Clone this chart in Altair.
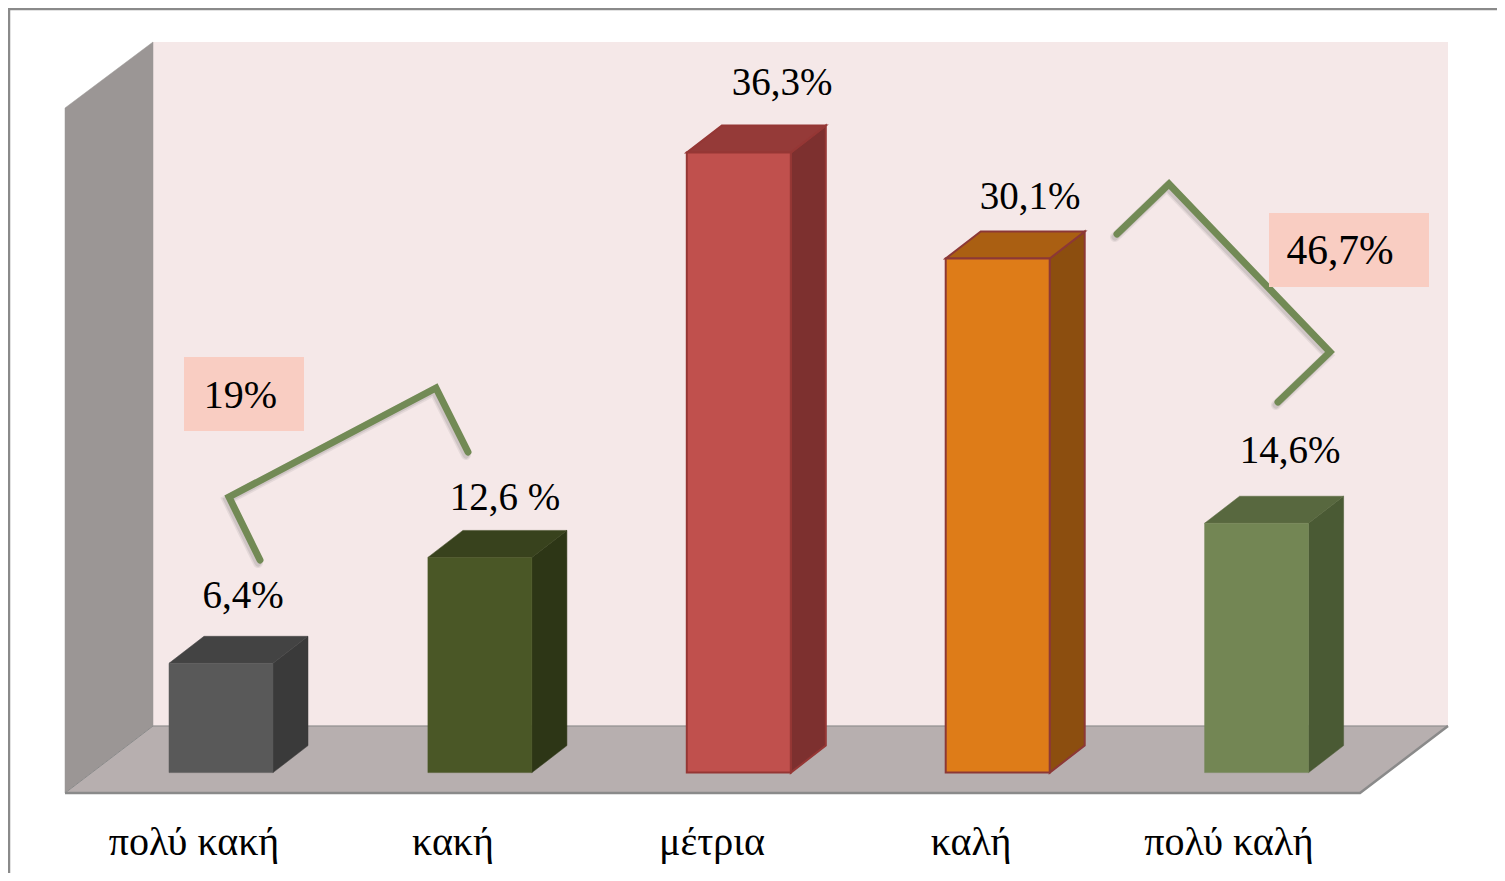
import altair as alt
import pandas as pd

# ---- chart values ----
categories = ["πολύ κακή", "κακή", "μέτρια", "καλή", "πολύ καλή"]
values = [6.4, 12.6, 36.3, 30.1, 14.6]
value_labels = ["6,4%", "12,6 %", "36,3%", "30,1%", "14,6%"]
group_labels = ["19%", "46,7%"]

# ---- styling ----
front = ["#595959", "#4a5726", "#c0504d", "#de7c18", "#738654"]
top = ["#434343", "#38421d", "#953a38", "#aa5f12", "#58683f"]
side = ["#3a3a3a", "#2d3616", "#7d302f", "#8c4e0f", "#4a5a34"]
edge = ["#595959", "#4a5726", "#953735", "#8c3836", "#738654"]
edge_w = [0.5, 0.5, 2, 2, 0.5]
FONT = "Liberation Serif"
W, H = 1489, 865


def X(px):
    return (px - 221) / 258.9


def Y(py):
    return (772.6 - py) / 17.08


half = 52 / 258.9
dx = 35 / 258.9
dy = 27 / 17.08
xs = alt.Scale(domain=[X(8), X(8 + W)], nice=False, zero=False)
ys = alt.Scale(domain=[Y(8 + H), Y(8)], nice=False, zero=False)
ex = alt.X("x:Q", scale=xs, axis=None)
ey = alt.Y("y:Q", scale=ys, axis=None)


def vpoly(rows, color, stroke=None, sw=0):
    d = pd.DataFrame([{"x": X(a), "y": Y(b), "y2": Y(c)} for a, b, c in rows])
    return alt.Chart(d).mark_area(orient="vertical", color=color, stroke=stroke or color, strokeWidth=sw).encode(
        x=ex, y=ey, y2="y2:Q")


def hpoly(rows, color):
    d = pd.DataFrame([{"y": Y(b), "x": X(a), "x2": X(c)} for b, a, c in rows])
    return alt.Chart(d).mark_area(orient="horizontal", color=color, stroke=color, strokeWidth=0.5).encode(
        x=ex, x2="x2:Q", y=ey)


def seg(points, color, width, opacity=1.0, cap="round"):
    d = pd.DataFrame([{"o": i, "x": X(a), "y": Y(b)} for i, (a, b) in enumerate(points)])
    return alt.Chart(d).mark_line(color=color, strokeWidth=width, opacity=opacity, strokeCap=cap,
                                  strokeJoin="miter").encode(x=ex, y=ey, order="o:Q")


def box(x0, x1, y0, y1, color, **kw):
    d = pd.DataFrame([{"x": X(x0), "x2": X(x1), "y": Y(y0), "y2": Y(y1)}])
    return alt.Chart(d).mark_rect(color=color, **kw).encode(x=ex, x2="x2:Q", y=ey, y2="y2:Q")


def txt(rows, size):
    d = pd.DataFrame([{"x": X(a), "y": Y(b), "t": t} for a, b, t in rows])
    return alt.Chart(d).mark_text(font=FONT, fontSize=size, color="#000000", align="center",
                                  baseline="alphabetic").encode(x=ex, y=ey, text="t:N")


layers = []
# walls and floor
layers.append(box(153, 1448, 42, 726, "#f5e8e8"))
layers.append(vpoly([(65, 793, 108), (153, 726, 42)], "#9b9695", sw=0.5))
layers.append(hpoly([(793, 65, 1360), (726, 153, 1448)], "#b7afaf"))
layers.append(seg([(65, 793), (1360, 793), (1448, 726), (153, 726), (65, 793)], "#8a8a8a", 1, cap="butt"))
layers.append(seg([(65, 793), (1360, 793), (1448, 726)], "#8a8a8a", 2.5, cap="butt"))

# slide frame, at the edge of the drawable area
layers.append(seg([(9, 873), (9, 9), (1497, 9)], "#8a8a8a", 2.5, cap="butt"))

# bars
for i, v in enumerate(values):
    sd = pd.DataFrame([
        {"x": i + half, "y": 0, "y2": v},
        {"x": i + half + dx, "y": dy, "y2": v + dy},
    ])
    layers.append(alt.Chart(sd).mark_area(orient="vertical", color=side[i], stroke=edge[i] if edge_w[i] > 1 else side[i],
                                          strokeWidth=edge_w[i]).encode(x=ex, y=ey, y2="y2:Q"))
    td = pd.DataFrame([
        {"y": v, "x": i - half, "x2": i + half},
        {"y": v + dy, "x": i - half + dx, "x2": i + half + dx},
    ])
    layers.append(alt.Chart(td).mark_area(orient="horizontal", color=top[i], stroke=edge[i] if edge_w[i] > 1 else top[i],
                                          strokeWidth=edge_w[i]).encode(x=ex, x2="x2:Q", y=ey))
    fd = pd.DataFrame([{"x": i - half, "x2": i + half, "y": v, "y2": 0}])
    layers.append(alt.Chart(fd).mark_rect(color=front[i], stroke=edge[i], strokeWidth=edge_w[i]).encode(
        x=ex, x2="x2:Q", y=ey, y2="y2:Q"))

# brackets with soft shadow
left = [(260, 560), (229, 497), (436, 388), (468, 452)]
right = [(1117, 234), (1169, 184), (1330, 352), (1278, 402)]
for pts in (left, right):
    shadow = [(a - 2, b + 3) for a, b in pts]
    layers.append(seg(shadow, "#777777", 10, 0.12))
    layers.append(seg(shadow, "#777777", 7, 0.2))
    layers.append(seg(pts, "#728a55", 7))

# highlighted totals
layers.append(box(184, 304, 357, 431, "#f9cdc2"))
layers.append(box(1269, 1429, 213, 287, "#f9cdc2"))
layers.append(txt([(240.5, 408, group_labels[0])], 40))
layers.append(txt([(1340, 264, group_labels[1])], 41.5))

# value labels
label_x = [243, 505, 782, 1030, 1290]
label_y = [608, 510, 95, 209, 463]
layers.append(txt([(a, b, t) for a, b, t in zip(label_x, label_y, value_labels)], 39))

# category labels
cat_x = [194, 453, 712, 971, 1229]
layers.append(txt([(a, 855, t) for a, t in zip(cat_x, categories)], 40))

chart = alt.layer(*layers).properties(
    width=W, height=H, padding=0, background="#ffffff",
    autosize=alt.AutoSizeParams(type="none"),
).configure_view(stroke=None)

chart.save("out.html", embed_options={"renderer": "svg", "actions": False})
